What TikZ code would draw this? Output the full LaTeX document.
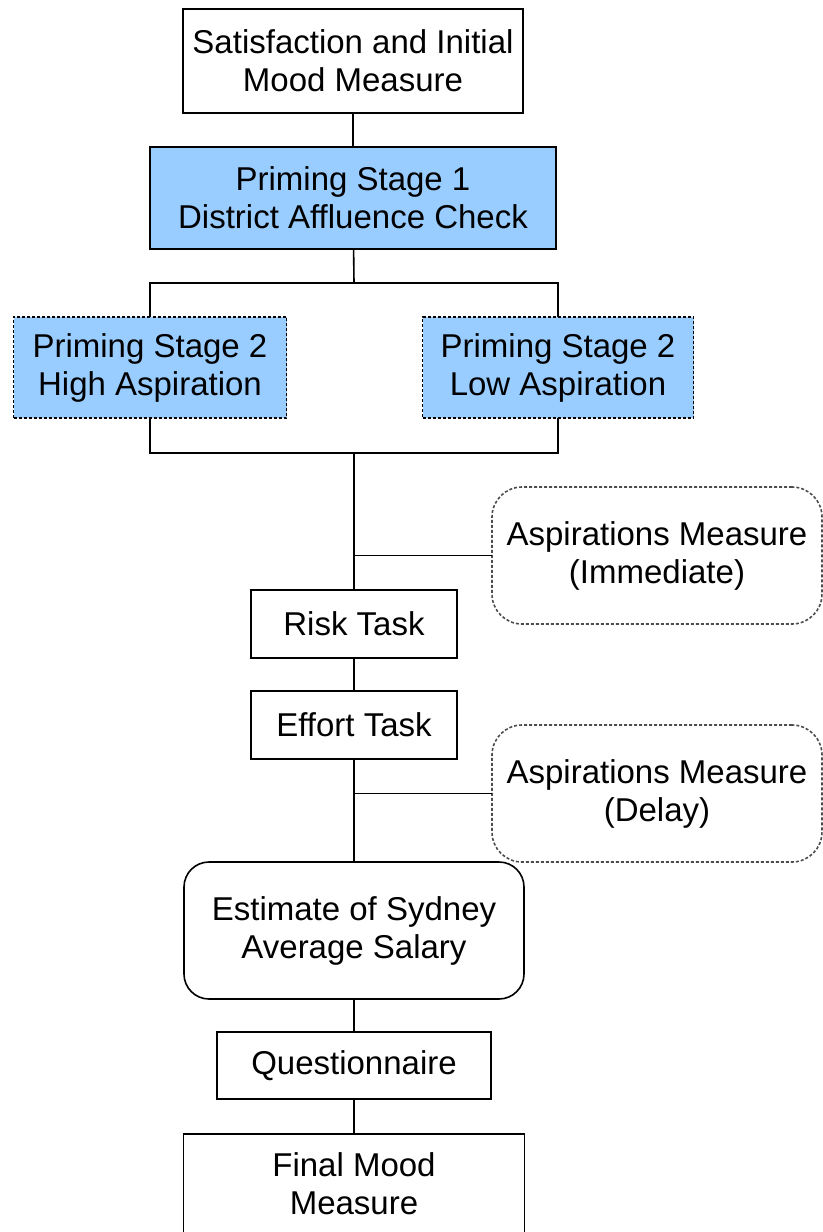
\documentclass[tikz,border=0pt]{standalone}
\usepackage{fontspec}
\setmainfont{Liberation Sans}
\usetikzlibrary{positioning}

\definecolor{primeblue}{RGB}{153,204,255}

\begin{document}
\begin{tikzpicture}[x=0.5pt, y=-0.5pt,
	font=\fontsize{16.5}{19}\selectfont,
	box/.style={draw, line width=0.8pt, align=center, inner sep=0pt, outer sep=0pt},
	prime/.style={box, fill=primeblue},
	primedash/.style={prime, dash pattern=on 1.5pt off 1pt},
	measure/.style={box, draw=black!70, dash pattern=on 1.5pt off 1pt, rounded corners=15pt, minimum width=165pt, minimum height=68.5pt},
	link/.style={line width=0.8pt}]
	\useasboundingbox (0,0) rectangle (823,1232);
	\clip (0,0) rectangle (823,1232);

	\node[box, minimum width=170pt, minimum height=52pt] (mood) at (353,61) {Satisfaction and Initial\\Mood Measure};
	\node[prime, minimum width=203pt, minimum height=51pt, below=17pt of mood] (check) {Priming Stage 1\\District Affluence Check};
	\node[primedash, minimum width=136.5pt, minimum height=50.5pt] (high) at (150,367.5) {Priming Stage 2\\High Aspiration};
	\node[primedash, minimum width=135.5pt, minimum height=50.5pt] (low) at (558,367.5) {Priming Stage 2\\Low Aspiration};

	\node[box, minimum width=103pt, minimum height=34pt] (risk) at (354,624) {Risk Task};
	\node[box, minimum width=103pt, minimum height=34pt, below=16.5pt of risk] (effort) {Effort Task};
	\node[measure] (aspnow) at (657,555.5) {Aspirations Measure\\(Immediate)};
	\node[measure] (asplater) at (657,793.5) {Aspirations Measure\\(Delay)};

	\node[box, rounded corners=12.5pt, minimum width=170pt, minimum height=68.5pt, below=51.5pt of effort] (salary) {Estimate of Sydney\\Average Salary};
	\node[box, minimum width=137pt, minimum height=33.5pt, below=16.5pt of salary] (quest) {Questionnaire};
	\node[box, minimum width=170.5pt, minimum height=50pt, below=17.5pt of quest] (final) {Final Mood\\Measure};

	\coordinate (fork) at (354,283);
	\coordinate (join) at (354,453);
	\coordinate (tapnow) at (join |- aspnow.west);
	\coordinate (taplater) at (join |- asplater.west);

	\draw[link] (mood) -- (check);
	\draw[link] (check) -- (fork);
	\draw[link] (high.north) |- (fork) -| (low.north);
	\draw[link] (high.south) |- (join) -| (low.south);
	\draw[link] (join) -- (risk);
	\draw[link] (tapnow) -- (aspnow);
	\draw[link] (risk) -- (effort);
	\draw[link] (effort) -- (salary);
	\draw[link] (taplater) -- (asplater);
	\draw[link] (salary) -- (quest);
	\draw[link] (quest) -- (final);
\end{tikzpicture}
\end{document}
